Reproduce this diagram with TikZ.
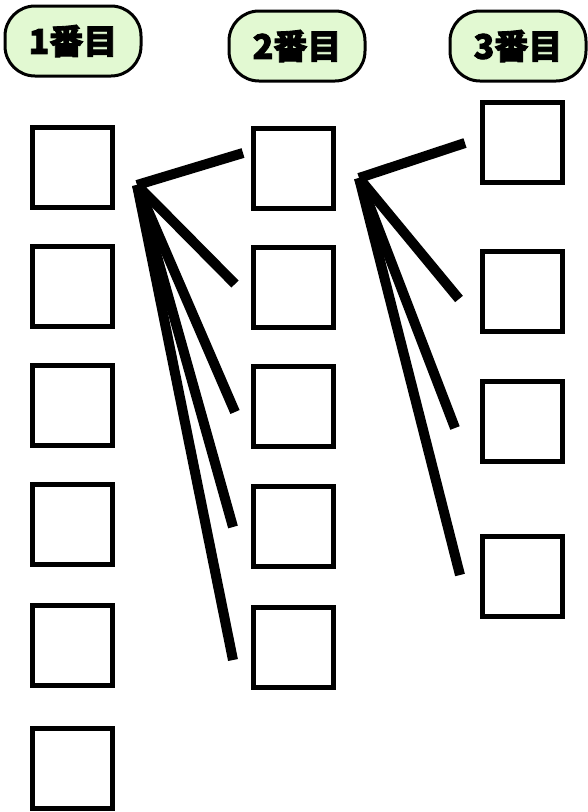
\documentclass[tikz,border=0pt]{standalone}
\usepackage{fontspec}
\newfontfamily\jp{Noto Sans CJK JP}[BoldFeatures={FakeBold=2.5}]
\definecolor{lblfill}{HTML}{E2F9D2}
\begin{document}
\begin{tikzpicture}[x=1pt,y=-1pt,
  sq/.style={draw,line width=5pt,minimum width=80pt,minimum height=80pt,inner sep=0pt,fill=white},
  lbl/.style={draw,line width=3pt,fill=lblfill,rounded corners=30pt,minimum width=136pt,minimum height=70pt,inner sep=0pt,font=\jp\bfseries\fontsize{34}{36}\selectfont},
  fan/.style={line width=10pt}]
\useasboundingbox (0,0) rectangle (587,812);
\node[lbl] (L1) at (73,41) {1番目\hspace{4pt}};
\node[lbl] (L2) at (297,46) {2番目};
\node[lbl] (L3) at (518,46) {3番目\hspace{4pt}};
\foreach \i/\y in {1/167,2/286,3/405,4/524,5/645,6/768} \node[sq] (a\i) at (72.5,\y) {};
\foreach \i/\y in {1/168,2/287,3/406,4/526,5/647} \node[sq] (b\i) at (293.5,\y) {};
\foreach \i/\y in {1/142,2/291,3/421,4/576} \node[sq] (c\i) at (522,\y) {};
\coordinate (h1) at (137,185);
\coordinate (h2) at (359,178);
\coordinate (e1) at (243,153);
\coordinate (e2) at (235,284);
\coordinate (e3) at (235,412);
\coordinate (e4) at (233,527);
\coordinate (e5) at (233,660);
\coordinate (f1) at (465,143);
\coordinate (f2) at (459,299);
\coordinate (f3) at (455,428);
\coordinate (f4) at (460,575);
\foreach \e in {e1,e2,e3,e4,e5} \draw[fan] (h1) -- (\e);
\foreach \e in {f1,f2,f3,f4} \draw[fan] (h2) -- (\e);
\end{tikzpicture}
\end{document}
